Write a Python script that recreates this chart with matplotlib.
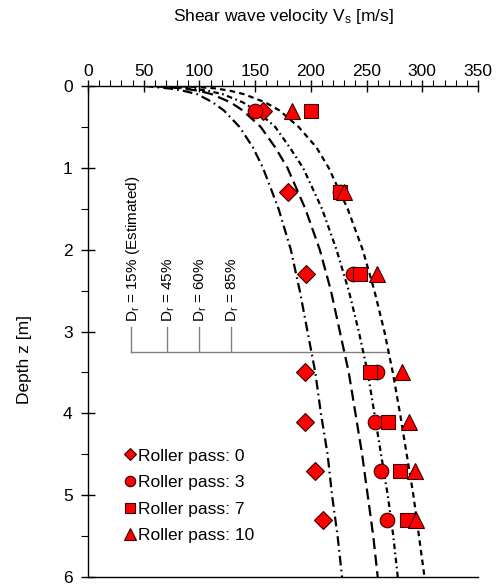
import matplotlib
matplotlib.use("Agg")
import matplotlib.pyplot as plt
from matplotlib.ticker import MultipleLocator
from matplotlib.lines import Line2D

plt.rcParams['font.family'] = ['Liberation Sans', 'DejaVu Sans']
plt.rcParams['mathtext.fontset'] = 'custom'
plt.rcParams['mathtext.rm'] = 'Liberation Sans'
plt.rcParams['mathtext.it'] = 'Liberation Sans:italic'
plt.rcParams['lines.scale_dashes'] = False
FS = 12.5

# ---- measured data ----
depth_pts = [0.3, 1.3, 2.3, 3.5, 4.1, 4.7, 5.3]
vs_pass0 = [157, 179.5, 196, 195, 195, 204, 210.5]
vs_pass3 = [150, 226, 238, 259, 258, 263, 268]
vs_pass7 = [200, 226, 244, 253, 269, 280, 286]
vs_pass10 = [183.5, 230, 259.5, 282, 288, 293.5, 294.5]
pass_labels = ["Roller pass: 0", "Roller pass: 3", "Roller pass: 7", "Roller pass: 10"]

# ---- estimated curves (digitised) ----
depth_curve = [0.0, 0.01, 0.03, 0.06, 0.1, 0.2, 0.3, 0.5, 0.75, 1.0, 1.5,
               2.0, 2.5, 3.0, 3.5, 4.0, 4.5, 5.0, 5.5, 6.0]
vs_dr15 = [50, 58, 73, 86, 98, 112, 122, 136, 148, 157, 171,
           182, 190, 197, 204, 209, 215, 219, 224, 228]
vs_dr45 = [58, 68, 85, 100, 111, 128, 139, 155, 168, 179, 195,
           208, 218, 226, 234, 240, 246, 251, 256, 260]
vs_dr60 = [62, 75, 92, 108, 121, 139, 151, 168, 181, 193, 210,
           223, 234, 243, 251, 257, 263, 269, 274, 278]
vs_dr85 = [75, 95, 115, 128, 140, 159, 172, 189, 205, 216, 233,
           246.5, 257, 266, 273.5, 280, 286, 292, 297, 302]
dr_labels = ["D$_\\mathrm{r}$ = 15% (Estimated)", "D$_\\mathrm{r}$ = 45%",
             "D$_\\mathrm{r}$ = 60%", "D$_\\mathrm{r}$ = 85%"]
dr_label_x = [38.5, 70.5, 99.5, 128]

fig = plt.figure(figsize=(4.98, 5.84), dpi=100)
ax = fig.add_axes([88/498, 1-577/584, 390/498, 491/584])

# curves
curve_styles = [(0, (7, 3, 1.2, 3)), (0, (8, 4)), (0, (4, 2.5, 1.2, 2.5)), (0, (4, 3))]
for vs, ls in zip([vs_dr15, vs_dr45, vs_dr60, vs_dr85], curve_styles):
    ax.plot(vs, depth_curve, color='black', lw=1.6, linestyle=ls, zorder=2)

# annotation bracket
gray = '#808080'
ax.plot([dr_label_x[0], 269], [3.25, 3.25], color=gray, lw=1.0, zorder=1)
for xv, lab in zip(dr_label_x, dr_labels):
    ax.plot([xv, xv], [2.95, 3.25], color=gray, lw=1.0, zorder=1)
    ax.text(xv + 1.8, 2.89, lab, rotation=90, ha='center', va='bottom', fontsize=11)

# markers
mk = dict(color='red', markeredgecolor='#3a0000', markeredgewidth=0.8, linestyle='none', zorder=3)
ax.plot(vs_pass0, depth_pts, marker='D', markersize=9, **mk)
ax.plot(vs_pass3, depth_pts, marker='o', markersize=10.5, **mk)
ax.plot(vs_pass7, depth_pts, marker='s', markersize=10, **mk)
ax.plot(vs_pass10, depth_pts, marker='^', markersize=11, **mk)

handles = [Line2D([], [], marker=m, markersize=s, **mk) for m, s in
           zip(['D', 'o', 's', '^'], [6.5, 7.5, 7.5, 8])]
ax.legend(handles, pass_labels, loc='upper left', bbox_to_anchor=(0.095, 0.262),
          frameon=False, fontsize=FS, handlelength=0.6, handletextpad=0.15,
          borderpad=0, borderaxespad=0, labelspacing=0.66)

ax.set_xlim(0, 350)
ax.set_ylim(6, 0)
ax.xaxis.tick_top()
ax.xaxis.set_major_locator(MultipleLocator(50))
ax.xaxis.set_minor_locator(MultipleLocator(10))
ax.yaxis.set_major_locator(MultipleLocator(1))
ax.yaxis.set_minor_locator(MultipleLocator(0.5))
ax.tick_params(axis='x', which='major', direction='inout', length=9, width=1, labelsize=FS, pad=0.5)
ax.tick_params(axis='x', which='minor', direction='out', length=4, width=0.8)
ax.tick_params(axis='y', which='major', direction='inout', length=10, width=1, labelsize=FS, pad=6)
ax.tick_params(axis='y', which='minor', direction='out', length=5, width=0.8)
ax.spines['right'].set_visible(False)
for s in ['top', 'left', 'bottom']:
    ax.spines[s].set_linewidth(1.0)

fig.text(283/498, 1-17/584, "Shear wave velocity V$_\\mathrm{s}$ [m/s]", ha='center', va='center', fontsize=FS)
fig.text(24/498, 1-360/584, "Depth z [m]", rotation=90, ha='center', va='center', fontsize=FS)

fig.savefig("out.png", dpi=100)
